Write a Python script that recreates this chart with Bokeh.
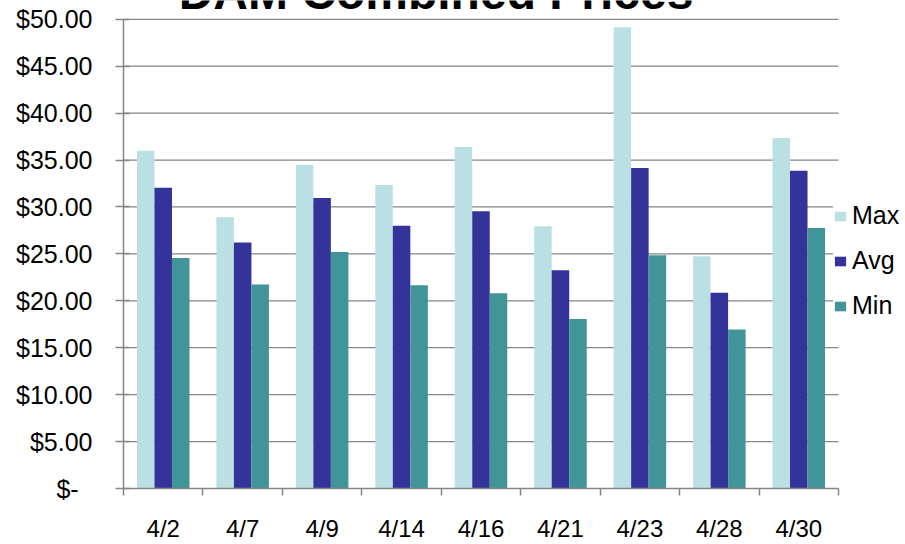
import numpy as np
from bokeh.plotting import figure
from bokeh.models import (ColumnDataSource, Range1d, LinearAxis,
                          FixedTicker, Legend, LegendItem, Label)
from bokeh.embed import file_html
from bokeh.resources import INLINE

# ---- data ----
dates = ["4/2", "4/7", "4/9", "4/14", "4/16", "4/21", "4/23", "4/28", "4/30"]
max_vals = [36.0, 28.9, 34.5, 32.35, 36.4, 27.95, 49.15, 24.75, 37.35]
avg_vals = [32.05, 26.2, 30.95, 28.0, 29.55, 23.25, 34.15, 20.85, 33.85]
min_vals = [24.55, 21.75, 25.2, 21.65, 20.8, 18.05, 24.85, 16.95, 27.75]
series_names = ["Max", "Avg", "Min"]
series_colors = ["#BBE0E3", "#333399", "#419599"]
y_ticks = [0, 5, 10, 15, 20, 25, 30, 35, 40, 45, 50]
y_tick_labels = ["$-\u00a0\u00a0", "$5.00", "$10.00", "$15.00", "$20.00", "$25.00",
                 "$30.00", "$35.00", "$40.00", "$45.00", "$50.00"]
title_text = "DAM Combined Prices"

FONT = "Liberation Sans"
GRAY = "#868686"

n = len(dates)
centres = np.arange(n) + 0.5          # category centres on the x scale
edges = np.arange(n + 1)              # category boundaries
bar_w = 0.2205
offsets = [-bar_w, 0.0, bar_w]

data = dict(date=dates, Max=max_vals, Avg=avg_vals, Min=min_vals)
for name, off in zip(series_names, offsets):
    data["x_" + name] = centres + off
source = ColumnDataSource(data)

# frame spans x = 123..905 and y = 0..492 on the canvas; the extra room on the
# right and at the top holds the legend and the (cut-off) title
x_end = n + 67 / 79.44
y_end = 52.0

p = figure(x_range=Range1d(0, x_end), y_range=Range1d(0, y_end),
           width=905, height=544,
           output_backend="svg", toolbar_location=None,
           x_axis_location=None, y_axis_location=None,
           min_border_left=123, min_border_right=0,
           min_border_top=0, min_border_bottom=52)
p.grid.visible = False
p.outline_line_color = None
p.background_fill_color = "white"
p.border_fill_color = "white"

# horizontal gridlines, limited to the category span
p.segment(x0=[0] * len(y_ticks), x1=[n] * len(y_ticks), y0=y_ticks, y1=y_ticks,
          line_color=GRAY, line_width=1.25, level="underlay")

renderers = []
for name, col in zip(series_names, series_colors):
    r = p.vbar(x="x_" + name, top=name, width=bar_w, source=source,
               fill_color=col, line_color=None)
    renderers.append(r)

# y axis
yaxis = LinearAxis(ticker=FixedTicker(ticks=y_ticks), bounds=(0, 50),
                   major_label_overrides={t: l for t, l in zip(y_ticks, y_tick_labels)},
                   axis_line_color=GRAY, axis_line_width=1.5,
                   major_tick_line_color=GRAY, major_tick_line_width=1.5,
                   major_tick_in=6, major_tick_out=8,
                   minor_tick_line_color=None,
                   major_label_standoff=23,
                   major_label_text_font=FONT, major_label_text_font_size="25px",
                   major_label_text_color="black")
p.add_layout(yaxis, "left")

# x axis: labels at category centres, ticks at category boundaries
xaxis = LinearAxis(ticker=FixedTicker(ticks=list(centres), minor_ticks=list(edges)),
                   bounds=(0, n),
                   major_label_overrides={float(c): d for c, d in zip(centres, dates)},
                   axis_line_color=GRAY, axis_line_width=1.5,
                   major_tick_line_color=None, major_tick_in=0, major_tick_out=0,
                   minor_tick_line_color=GRAY, minor_tick_line_width=1.5,
                   minor_tick_in=0, minor_tick_out=7,
                   major_label_standoff=19,
                   major_label_text_font=FONT, major_label_text_font_size="24px",
                   major_label_text_line_height=1.0,
                   major_label_text_color="black")
p.add_layout(xaxis, "below")

# legend
legend = Legend(items=[LegendItem(label=s, renderers=[r]) for s, r in zip(series_names, renderers)],
                location=(710, 168), orientation="vertical",
                glyph_width=14, glyph_height=12, label_standoff=5,
                label_height=12, spacing=16, padding=0, margin=0,
                border_line_color=None, background_fill_color="white",
                background_fill_alpha=1.0,
                label_text_font=FONT, label_text_font_size="25px",
                label_text_color="black")
p.add_layout(legend)

# title (partly cut off at the top, as in the reference)
title = Label(x=3.934, y=52.8, text=title_text, x_units="data", y_units="data",
              text_font=FONT, text_font_style="bold", text_font_size="48px",
              text_align="center", text_baseline="alphabetic", text_color="black")
p.add_layout(title)

open("out.html", "w").write(file_html(p, INLINE))
